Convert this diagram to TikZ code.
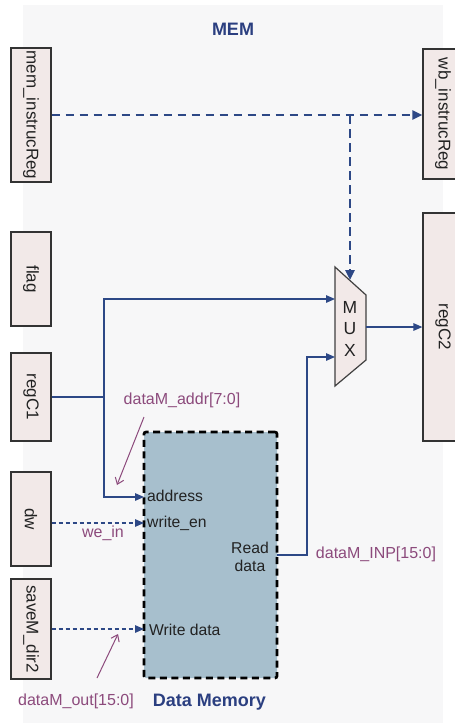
\documentclass[tikz,border=0pt]{standalone}
\usepackage{fontspec}
\setmainfont{Liberation Sans}
\usetikzlibrary{arrows.meta,calc}

\definecolor{panel}{HTML}{F7F7F8}
\definecolor{regfill}{HTML}{F2E9E8}
\definecolor{memfill}{HTML}{A7BFCD}
\definecolor{wirecol}{HTML}{2D4886}
\definecolor{notecol}{HTML}{8C4A7C}
\definecolor{titlecol}{HTML}{2B3F80}
\definecolor{ink}{HTML}{222222}

\begin{document}
\begin{tikzpicture}[x=1pt,y=-1pt,
  regbox/.style={draw=black!80, line width=1.2pt, fill=regfill, rotate=-90,
    inner sep=0pt, minimum height=40pt, text=ink,
    font=\fontsize{17}{20}\selectfont},
  tip/.style={-{Triangle[length=9pt,width=7.5pt]}},
  wire/.style={draw=wirecol, line width=1.3pt, tip},
  busdash/.style={draw=wirecol, line width=2.7pt, dash pattern=on 8.5pt off 5.5pt,
    -{Triangle[length=10pt,width=9pt]}},
  ctrldash/.style={draw=wirecol, line width=1.3pt, dash pattern=on 4pt off 3pt, tip},
  notearrow/.style={draw=notecol, line width=1pt, -{Straight Barb[length=6pt,width=9pt]}},
  notetext/.style={text=notecol, font=\fontsize{16}{19}\selectfont, inner sep=0pt},
  porttext/.style={text=ink, font=\fontsize{15.7}{18.4}\selectfont, inner sep=0pt},
  heading/.style={text=titlecol, font=\fontsize{18}{21}\selectfont\bfseries, inner sep=0pt}
]
\useasboundingbox (0,0) rectangle (455,723);

% stage panel
\fill[panel] (23,5) rectangle (443,723);
\node[heading, anchor=base] (title) at (233,35) {MEM};

% pipeline registers (rotated, so .north is the right side, .south the left side)
\node[regbox, minimum width=134pt] (mir)  at (31,115)  {mem\_instrucReg};
\node[regbox, minimum width=94pt]  (flag) at (31,279)  {flag};
\node[regbox, minimum width=88pt]  (c1)   at (31,397)  {regC1};
\node[regbox, minimum width=94pt]  (dw)   at (31,519)  {dw};
\node[regbox, minimum width=100pt] (sm)   at (31,629)  {saveM\_dir2};
\node[regbox, minimum width=130pt] (wbr)  at (443,114) {wb\_instrucReg};
\node[regbox, minimum width=228pt] (c2)   at (443,327) {regC2};

% data memory block
\node[draw=black, line width=2.7pt, dash pattern=on 7pt off 4.5pt, fill=memfill,
  rounded corners=2pt, minimum width=133pt, minimum height=246pt, inner sep=0pt]
  (mem) at (210.5,555) {};
\node[porttext, anchor=base west] (paddr) at (147,501.5) {address};
\node[porttext, anchor=base west] (pwen)  at (147,527.5) {write\_en};
\node[porttext, align=center]     (prd)   at (250,557)   {Read\\data};
\node[porttext, anchor=base west] (pwd)   at (149,635)   {Write data};
\node[heading, anchor=base] (memname) at (209.5,706.5) {Data Memory};

% multiplexer
\coordinate (m1) at (335,267);
\coordinate (m2) at (366,295);
\coordinate (m3) at (366,360);
\coordinate (m4) at (335,386);
\draw[draw=black!75, line width=1.2pt, fill=regfill] (m1) -- (m2) -- (m3) -- (m4) -- cycle;
\node[text=ink, font=\fontsize{17.5}{21.5}\selectfont, align=center, inner sep=0pt]
  (mux) at (350,328.5) {M\\U\\X};

% port coordinates
\coordinate (muxsel) at (350,280);
\coordinate (muxA)   at (335,299);
\coordinate (muxB)   at (335,357);
\coordinate (muxO)   at (366,327);
\coordinate (branch) at (350,115);
\coordinate (jn)     at (104,397);
\coordinate (addrIn) at (144,497);
\coordinate (weIn)   at (144,523);
\coordinate (wdIn)   at (144,629);
\coordinate (rdOut)  at (277,555);
\coordinate (rdTurn) at (307,555);

% instruction register pass-through and mux select
\draw[busdash] (mir.north) -- (mir.north -| wbr.south);
\draw[busdash] (branch) -- (muxsel);

% data paths
\draw[wire] (c1.north) -- (jn) |- (muxA);
\draw[wire] (jn) |- (addrIn);
\draw[wire] (rdOut) -- (rdTurn) |- (muxB);
\draw[wire] (muxO) -- (muxO -| c2.south);

% control and write data
\draw[ctrldash] (dw.north |- weIn) -- (weIn);
\draw[ctrldash] (sm.north |- wdIn) -- (wdIn);

% signal names
\node[notetext, anchor=base] (laddr) at (182,404) {dataM\_addr[7:0]};
\node[notetext, anchor=base] (lwe)   at (103,537) {we\_in};
\node[notetext, anchor=base] (linp)  at (376,558) {dataM\_INP[15:0]};
\node[notetext, anchor=base] (lout)  at (76,705)  {dataM\_out[15:0]};

\coordinate (na1) at (144,417);
\coordinate (na2) at (117,485);
\coordinate (no1) at (97,678);
\coordinate (no2) at (118,634);
\draw[notearrow] (na1) -- (na2);
\draw[notearrow] (no1) -- (no2);
\end{tikzpicture}
\end{document}
